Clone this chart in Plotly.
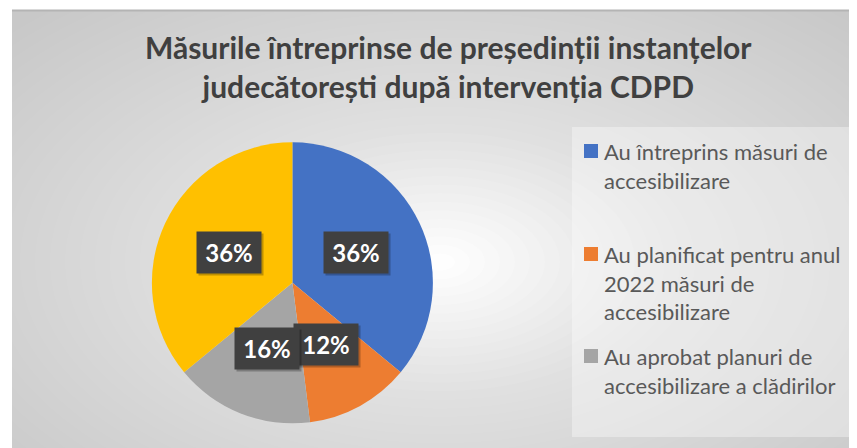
import math
import plotly.graph_objects as go

# ---------------- data ----------------
title_lines = ["Măsurile întreprinse de președinții instanțelor",
               "judecătorești după intervenția CDPD"]
categories = ["Au întreprins măsuri de accesibilizare",
              "Au planificat pentru anul 2022 măsuri de accesibilizare",
              "Au aprobat planuri de accesibilizare a clădirilor",
              "Altele"]
values = [36, 12, 16, 36]
legend_lines = [["Au întreprins măsuri de", "accesibilizare"],
                ["Au planificat pentru anul", "2022 măsuri de", "accesibilizare"],
                ["Au aprobat planuri de", "accesibilizare a clădirilor"]]
colors = ["#4472C4", "#ED7D31", "#A5A5A5", "#FFC000"]

# ---------------- geometry (page pixels) ----------------
OX, OY = 8, 8            # browser body margin
W, H = 849, 440          # figure size


def px(x):
    return (x - OX) / W


def py(y):
    return 1 - (y - OY) / H


cx, cy, R = 292.4, 282.8, 140.5
FONT = "Lato"

fig = go.Figure()

fig.add_trace(go.Pie(
    labels=categories, values=values, sort=False, direction="clockwise", rotation=0,
    marker=dict(colors=colors, line=dict(width=0)),
    textinfo="none", hoverinfo="label+percent", showlegend=False,
    domain=dict(x=[px(cx - R), px(cx + R)], y=[py(cy + R), py(cy - R)]),
))

shapes = []
# chart area base
shapes.append(dict(type="rect", xref="paper", yref="paper", layer="below",
                   x0=px(12), x1=px(857), y0=py(449), y1=py(10),
                   fillcolor="rgb(200,200,200)", line=dict(width=0)))
# radial gradient approximation
gx, gy, rx, ry = 440, 262, 600, 345
n = 40
c_prev = 200.0
for k in range(n):
    f = 1 - k / n
    target = 255 - 55 * max(0.0, f - 0.5 / n)
    a = (target - c_prev) / (255 - c_prev)
    c_prev = target
    shapes.append(dict(type="circle", xref="paper", yref="paper", layer="below",
                       x0=px(gx - rx * f), x1=px(gx + rx * f),
                       y0=py(gy + ry * f), y1=py(gy - ry * f),
                       fillcolor="white", opacity=a, line=dict(width=0)))
# white margins outside chart area (cover gradient spill)
shapes.append(dict(type="rect", xref="paper", yref="paper", layer="below",
                   x0=px(-50), x1=px(12), y0=py(500), y1=py(-50),
                   fillcolor="white", line=dict(width=0)))
shapes.append(dict(type="rect", xref="paper", yref="paper", layer="below",
                   x0=px(-50), x1=px(900), y0=py(10), y1=py(-50),
                   fillcolor="white", line=dict(width=0)))
# top border
shapes.append(dict(type="line", xref="paper", yref="paper", layer="below",
                   x0=px(12), x1=px(857), y0=py(10.5), y1=py(10.5),
                   line=dict(color="#b4b4b4", width=2)))
# legend box
shapes.append(dict(type="rect", xref="paper", yref="paper", layer="below",
                   x0=px(572), x1=px(857), y0=py(437), y1=py(127),
                   fillcolor="rgba(255,255,255,0.35)", line=dict(width=0)))

annotations = []
# title
annotations.append(dict(x=px(448.5), y=py(66), xref="paper", yref="paper",
                        text="<br>".join(title_lines), showarrow=False,
                        xanchor="center", yanchor="middle", align="center",
                        font=dict(family=FONT, size=30, color="#404040", weight="bold")))

# percentage labels
total = sum(values)
cum = 0
for v in values:
    mid = (cum + v / 2) / total * 2 * math.pi
    cum += v
    lx = cx + 0.5 * R * math.sin(mid)
    ly = cy - 0.5 * R * math.cos(mid)
    annotations.append(dict(x=px(lx + 2), y=py(ly + 2), xref="paper", yref="paper",
                            xanchor="center", yanchor="middle",
                            text=" ", showarrow=False, width=54, height=31, borderpad=5,
                            bgcolor="rgba(0,0,0,0.25)", font=dict(size=10)))
    annotations.append(dict(x=px(lx), y=py(ly), xref="paper", yref="paper",
                            xanchor="center", yanchor="middle",
                            text=f"{round(v / total * 100)}%", showarrow=False,
                            width=54, height=31, borderpad=5, bgcolor="#404040",
                            font=dict(family=FONT, size=24, color="white", weight="bold")))

# manual legend (first three categories)
leg_y = [151, 254, 356]
line_h = 28.6
for i, lines in enumerate(legend_lines):
    y0 = leg_y[i]
    shapes.append(dict(type="rect", xref="paper", yref="paper",
                       x0=px(584), x1=px(598), y0=py(y0 + 7), y1=py(y0 - 7),
                       fillcolor=colors[i], line=dict(width=0)))
    annotations.append(dict(x=px(603), y=py(y0 - line_h / 2), xref="paper", yref="paper",
                            text="<br>".join(lines), showarrow=False, borderpad=0,
                            xanchor="left", yanchor="top", align="left",
                            font=dict(family=FONT, size=22, color="#595959")))

fig.update_layout(
    width=W, height=H, margin=dict(l=0, r=0, t=0, b=0),
    paper_bgcolor="white", plot_bgcolor="white",
    shapes=shapes, annotations=annotations,
)

fig.write_html("out.html")
